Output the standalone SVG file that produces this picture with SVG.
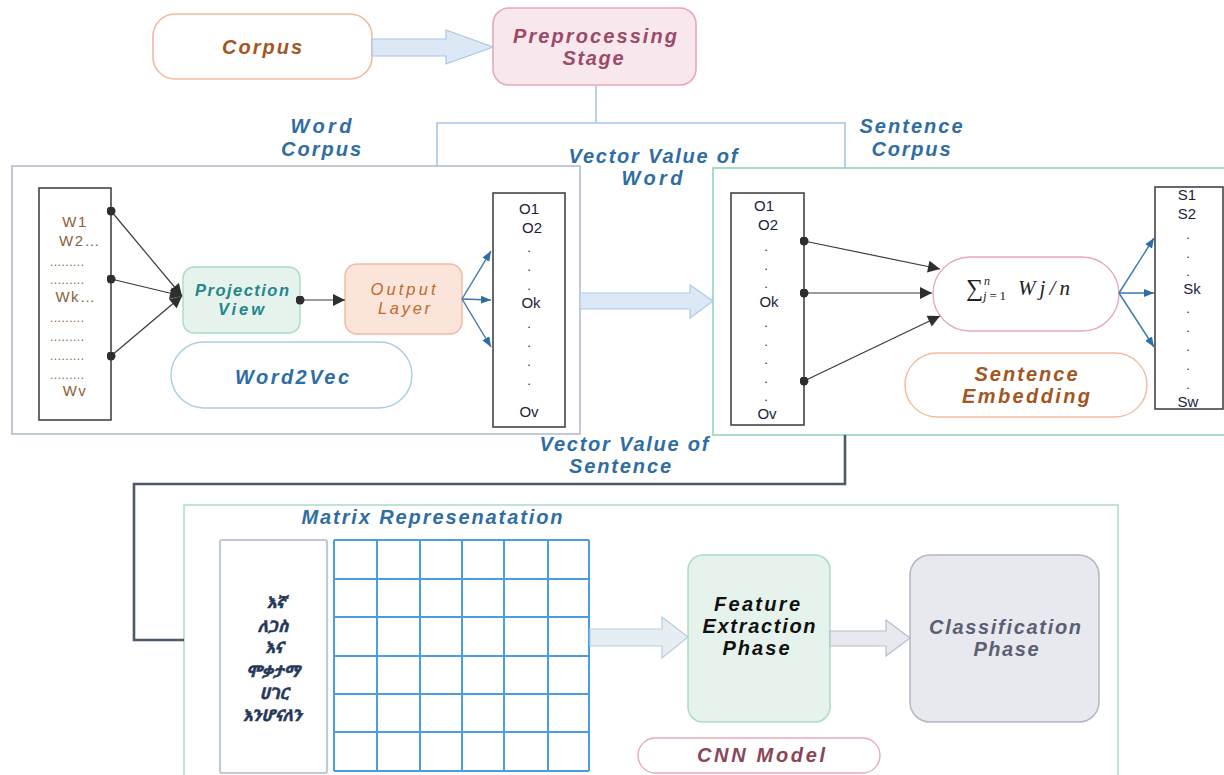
<svg xmlns="http://www.w3.org/2000/svg" width="1224" height="775" viewBox="0 0 1224 775">
  <style>
    .lbl { font-family: "Liberation Sans", Arial, sans-serif; font-weight: bold; font-style: italic; font-size: 20px; text-anchor: middle; }
    .blue { fill: #2f6da3; }
    .brown { fill: #a3561f; }
    .mauve { fill: #9a4b66; }
    .item { font-family: "Liberation Sans", Arial, sans-serif; font-size: 15px; text-anchor: middle; fill: #1c1c3c; }
    .witem { font-family: "Liberation Sans", Arial, sans-serif; font-size: 15px; text-anchor: middle; fill: #8a6236; letter-spacing: 1.5px; }
    .dot { font-family: "Liberation Sans", Arial, sans-serif; font-size: 13px; text-anchor: middle; fill: #1c1c3c; }
    .wdots { font-family: "Liberation Sans", Arial, sans-serif; font-size: 12px; fill: #8a6236; letter-spacing: 0.5px; }
    .am { font-family: "Noto Sans Ethiopic", "Abyssinica SIL", "DejaVu Sans", sans-serif; font-weight: bold; font-style: italic; font-size: 16px; text-anchor: middle; fill: #26385a; stroke: #26385a; stroke-width: 0.5; }
    .vlist { fill: #ffffff; stroke: #444444; stroke-width: 1.6; }
    .blk { stroke-width: 1.2; }
    .thin { fill: none; stroke: #3a3a3a; stroke-width: 1.2; }
    .bthin { fill: none; stroke: #3a78b0; stroke-width: 1.4; }
    .grid line { stroke: #4a9ee0; stroke-width: 2; }
    .small { font-size: 16.5px; }
  </style>
  <defs>
    <marker id="arrDarkL" viewBox="0 0 10 10" refX="10" refY="5" markerWidth="13" markerHeight="12" orient="auto" markerUnits="userSpaceOnUse">
      <path d="M0,0 L10,5 L0,10 z" fill="#2e2e2e"/>
    </marker>
    <marker id="arrBlue" viewBox="0 0 10 10" refX="10" refY="5" markerWidth="10" markerHeight="10" orient="auto" markerUnits="userSpaceOnUse">
      <path d="M0,1 L10,5 L0,9 z" fill="#2f6da3"/>
    </marker>
    <marker id="dotDark" viewBox="0 0 10 10" refX="5" refY="5" markerWidth="9" markerHeight="9" markerUnits="userSpaceOnUse">
      <circle cx="5" cy="5" r="5" fill="#2e2e2e"/>
    </marker>
  </defs>

  <rect width="1224" height="775" fill="#ffffff"/>

  <!-- outer frames -->
  <g id="word-panel">
    <rect x="12" y="166" width="568" height="268" fill="#ffffff" stroke="#c2cad8" stroke-width="2"/>
  </g>
  <g id="sentence-panel">
    <rect x="713" y="168" width="520" height="267" fill="#ffffff" stroke="#a8dcc6" stroke-width="2"/>
  </g>
  <g id="cnn-panel">
    <rect x="184" y="505" width="934" height="290" fill="#ffffff" stroke="#a8dcc6" stroke-width="1.5"/>
  </g>

  <!-- top stage -->
  <g id="corpus">
    <rect x="153" y="14" width="219" height="65" rx="22" fill="#ffffff" stroke="#f2b9a0" stroke-width="1.6"/>
    <text class="lbl brown" x="262" y="54" textLength="80" lengthAdjust="spacing">Corpus</text>
  </g>
  <g id="preprocessing">
    <rect x="493" y="8" width="203" height="77" rx="16" fill="#f9e7ee" stroke="#e8a8bc" stroke-width="1.6"/>
    <text class="lbl mauve" x="595" y="43" textLength="164" lengthAdjust="spacing">Preprocessing</text>
    <text class="lbl mauve" x="593" y="65" textLength="61" lengthAdjust="spacing">Stage</text>
  </g>

  <!-- connector labels -->
  <g id="labels">
    <text class="lbl blue" x="321" y="133" textLength="61" lengthAdjust="spacing">Word</text>
    <text class="lbl blue" x="321" y="156" textLength="80" lengthAdjust="spacing">Corpus</text>
    <text class="lbl blue" x="911" y="133" textLength="103" lengthAdjust="spacing">Sentence</text>
    <text class="lbl blue" x="911" y="156" textLength="79" lengthAdjust="spacing">Corpus</text>
    <text class="lbl blue" x="653" y="163" textLength="169" lengthAdjust="spacing">Vector Value of</text>
    <text class="lbl blue" x="652" y="185" textLength="61" lengthAdjust="spacing">Word</text>
    <text class="lbl blue" x="624" y="451" textLength="169" lengthAdjust="spacing">Vector Value of</text>
    <text class="lbl blue" x="620" y="473" textLength="102" lengthAdjust="spacing">Sentence</text>
    <text class="lbl blue" x="432" y="524" textLength="261" lengthAdjust="spacing">Matrix Represenatation</text>
  </g>

  <!-- word2vec panel -->
  <g id="word-list">
    <rect class="vlist" x="39" y="188" width="72" height="232"/>
    <text class="witem" x="75" y="227">W1</text>
    <text class="witem" x="80" y="246">W2…</text>
    <text class="wdots" x="50" y="266">.........</text>
    <text class="wdots" x="50" y="284">.........</text>
    <text class="witem" x="76" y="302">Wk…</text>
    <text class="wdots" x="50" y="322">.........</text>
    <text class="wdots" x="50" y="341">.........</text>
    <text class="wdots" x="50" y="360">.........</text>
    <text class="wdots" x="50" y="379">.........</text>
    <text class="witem" x="75" y="396">Wv</text>
  </g>
  <g id="projection-view">
    <rect x="183" y="267" width="117" height="66" rx="11" fill="#e5f3ec" stroke="#a9dcc6" stroke-width="1.4"/>
    <text class="lbl small" x="242" y="296" style="font-weight:600" fill="#23868a" textLength="94" lengthAdjust="spacing">Projection</text>
    <text class="lbl small" x="241" y="315" style="font-weight:600" fill="#23868a" textLength="46" lengthAdjust="spacing">View</text>
  </g>
  <g id="output-layer">
    <rect x="345" y="264" width="117" height="70" rx="12" fill="#fbe4da" stroke="#f2b9a0" stroke-width="1.4"/>
    <text class="lbl small" x="403" y="295" style="font-weight:normal" fill="#c06a2c" textLength="65" lengthAdjust="spacing">Output</text>
    <text class="lbl small" x="404" y="314" style="font-weight:normal" fill="#c06a2c" textLength="52" lengthAdjust="spacing">Layer</text>
  </g>
  <g id="word2vec">
    <rect x="171" y="342" width="241" height="66" rx="33" fill="#ffffff" stroke="#a9cde2" stroke-width="1.4"/>
    <text class="lbl blue" x="292" y="384" textLength="114" lengthAdjust="spacing">Word2Vec</text>
  </g>
  <g id="word-vectors">
    <rect class="vlist" x="493" y="193" width="72" height="234"/>
    <text class="item" x="529" y="214">O1</text>
    <text class="item" x="532" y="233">O2</text>
    <text class="dot" x="529" y="252">.</text>
    <text class="dot" x="529" y="271">.</text>
    <text class="dot" x="529" y="290">.</text>
    <text class="item" x="531" y="308">Ok</text>
    <text class="dot" x="529" y="328">.</text>
    <text class="dot" x="529" y="347">.</text>
    <text class="dot" x="529" y="366">.</text>
    <text class="dot" x="529" y="385">.</text>
    <text class="item" x="529" y="417">Ov</text>
  </g>

  <!-- sentence embedding panel -->
  <g id="sentence-input">
    <rect class="vlist" x="731" y="193" width="73" height="232"/>
    <text class="item" x="764" y="211">O1</text>
    <text class="item" x="768" y="230">O2</text>
    <text class="dot" x="766" y="251">.</text>
    <text class="dot" x="766" y="270">.</text>
    <text class="dot" x="766" y="288">.</text>
    <text class="item" x="769" y="307">Ok</text>
    <text class="dot" x="766" y="327">.</text>
    <text class="dot" x="766" y="346">.</text>
    <text class="dot" x="766" y="364">.</text>
    <text class="dot" x="766" y="383">.</text>
    <text class="dot" x="766" y="401">.</text>
    <text class="item" x="767" y="419">Ov</text>
  </g>
  <g id="average">
    <rect x="933" y="257" width="186" height="74" rx="37" fill="#ffffff" stroke="#e9a9bc" stroke-width="1.4"/>
    <text x="966" y="296" font-family="Liberation Serif, serif" font-size="24" fill="#222222">∑</text>
    <text x="984" y="285" font-family="Liberation Serif, serif" font-style="italic" font-size="12" fill="#222222">n</text>
    <text x="983" y="300" font-family="Liberation Serif, serif" font-size="13" fill="#222222" textLength="23" lengthAdjust="spacing"><tspan font-style="italic">j</tspan>=1</text>
    <text x="1018" y="295" font-family="Liberation Serif, serif" font-style="italic" font-size="21" fill="#222222" textLength="52" lengthAdjust="spacing">Wj/n</text>
  </g>
  <g id="sentence-embedding">
    <rect x="905" y="353" width="242" height="64" rx="32" fill="#ffffff" stroke="#f2b9a0" stroke-width="1.4"/>
    <text class="lbl brown" x="1026" y="381" textLength="103" lengthAdjust="spacing">Sentence</text>
    <text class="lbl brown" x="1026" y="403" textLength="128" lengthAdjust="spacing">Embedding</text>
  </g>
  <g id="sentence-vectors">
    <rect class="vlist" x="1155" y="187" width="68" height="222"/>
    <text class="item" x="1187" y="200">S1</text>
    <text class="item" x="1187" y="219">S2</text>
    <text class="dot" x="1188" y="239">.</text>
    <text class="dot" x="1188" y="258">.</text>
    <text class="dot" x="1188" y="276">.</text>
    <text class="item" x="1192" y="294">Sk</text>
    <text class="dot" x="1188" y="313">.</text>
    <text class="dot" x="1188" y="332">.</text>
    <text class="dot" x="1188" y="351">.</text>
    <text class="dot" x="1188" y="370">.</text>
    <text class="dot" x="1188" y="389">.</text>
    <text class="item" x="1188" y="407">Sw</text>
  </g>

  <!-- cnn panel -->
  <g id="sentence-words">
    <rect x="220" y="540" width="107" height="233" rx="2" fill="#ffffff" stroke="#c2cad8" stroke-width="2.2"/>
    <text class="am" x="276" y="608">እኛ</text>
    <text class="am" x="273" y="632">ለጋስ</text>
    <text class="am" x="274" y="653">እና</text>
    <text class="am" x="273" y="677">ሞቃታማ</text>
    <text class="am" x="274" y="699">ሀገር</text>
    <text class="am" x="272" y="721">እንሆናለን</text>
  </g>
  <g id="matrix" class="grid">
    <line x1="334" y1="540" x2="334" y2="771"/>
    <line x1="377" y1="540" x2="377" y2="771"/>
    <line x1="420" y1="540" x2="420" y2="771"/>
    <line x1="462" y1="540" x2="462" y2="771"/>
    <line x1="504" y1="540" x2="504" y2="771"/>
    <line x1="548" y1="540" x2="548" y2="771"/>
    <line x1="589" y1="540" x2="589" y2="771"/>
    <line x1="334" y1="540" x2="589" y2="540"/>
    <line x1="334" y1="579" x2="589" y2="579"/>
    <line x1="334" y1="617" x2="589" y2="617"/>
    <line x1="334" y1="656" x2="589" y2="656"/>
    <line x1="334" y1="694" x2="589" y2="694"/>
    <line x1="334" y1="732" x2="589" y2="732"/>
    <line x1="334" y1="771" x2="589" y2="771"/>
  </g>
  <g id="feature-extraction">
    <rect x="688" y="555" width="142" height="167" rx="15" fill="#e5f3ec" stroke="#a9dcc6" stroke-width="1.5"/>
    <text class="lbl" x="757" y="611" fill="#111111" textLength="86" lengthAdjust="spacing">Feature</text>
    <text class="lbl" x="759" y="633" fill="#111111" textLength="113" lengthAdjust="spacing">Extraction</text>
    <text class="lbl" x="756" y="655" fill="#111111" textLength="67" lengthAdjust="spacing">Phase</text>
  </g>
  <g id="classification">
    <rect x="910" y="555" width="189" height="167" rx="20" fill="#e8e9ef" stroke="#b0b6c6" stroke-width="1.5"/>
    <text class="lbl" x="1005" y="634" fill="#5a6072" textLength="152" lengthAdjust="spacing">Classification</text>
    <text class="lbl" x="1006" y="656" fill="#5a6072" textLength="65" lengthAdjust="spacing">Phase</text>
  </g>
  <g id="cnn-model">
    <rect x="638" y="738" width="242" height="35" rx="17.5" fill="#ffffff" stroke="#e9a9bc" stroke-width="1.4"/>
    <text class="lbl" x="761" y="762" fill="#8a4657" textLength="128" lengthAdjust="spacing">CNN Model</text>
  </g>

  <!-- connectors -->
  <g id="connectors">
    <!-- corpus tree from preprocessing -->
    <polyline points="596,85 596,123" fill="none" stroke="#a6c6e8" stroke-width="1.6"/>
    <polyline points="437,166 437,123 845,123 845,168" fill="none" stroke="#a6c6e8" stroke-width="1.6"/>
    <!-- sentence vectors down to matrix -->
    <polyline points="845,435 845,484 134,484 134,640 184,640" fill="none" stroke="#4e5a6a" stroke-width="2.6"/>

    <!-- block arrows -->
    <polygon class="blk" points="372,39 446,39 446,30 493,47 446,64 446,56 372,56" fill="#dde8f6" stroke="#a9c3e4"/>
    <polygon class="blk" points="580,293 690,293 690,285 713,301 690,318 690,309 580,309" fill="#dde8f6" stroke="#b2c9e6"/>
    <polygon class="blk" points="590,629 662,629 662,617 688,637 662,658 662,646 590,646" fill="#e6eef4" stroke="#b6cfe0"/>
    <polygon class="blk" points="830,631 886,631 886,620 910,638 886,656 886,646 830,646" fill="#e8e8ef" stroke="#b8bccf"/>

    <!-- word vectors into projection -->
    <line class="thin" x1="111" y1="211" x2="182" y2="296" marker-start="url(#dotDark)" marker-end="url(#arrDarkL)"/>
    <line class="thin" x1="111" y1="279" x2="182" y2="296" marker-start="url(#dotDark)" marker-end="url(#arrDarkL)"/>
    <line class="thin" x1="111" y1="356" x2="182" y2="296" marker-start="url(#dotDark)" marker-end="url(#arrDarkL)"/>
    <!-- projection to output -->
    <line class="thin" x1="300" y1="300" x2="345" y2="300" stroke-width="1.6" marker-start="url(#dotDark)" marker-end="url(#arrDarkL)"/>
    <!-- output fan-out -->
    <line class="bthin" x1="462" y1="299" x2="491" y2="251" marker-end="url(#arrBlue)"/>
    <line class="bthin" x1="462" y1="299" x2="491" y2="300" marker-end="url(#arrBlue)"/>
    <line class="bthin" x1="462" y1="299" x2="491" y2="347" marker-end="url(#arrBlue)"/>
    <!-- word vectors into averaging -->
    <line class="thin" x1="804" y1="241" x2="940" y2="269" marker-start="url(#dotDark)" marker-end="url(#arrDarkL)"/>
    <line class="thin" x1="804" y1="293" x2="932" y2="293" marker-start="url(#dotDark)" marker-end="url(#arrDarkL)"/>
    <line class="thin" x1="804" y1="381" x2="940" y2="316" marker-start="url(#dotDark)" marker-end="url(#arrDarkL)"/>
    <!-- averaging fan-out -->
    <line class="bthin" x1="1119" y1="293" x2="1154" y2="238" marker-end="url(#arrBlue)"/>
    <line class="bthin" x1="1119" y1="293" x2="1154" y2="293" marker-end="url(#arrBlue)"/>
    <line class="bthin" x1="1119" y1="293" x2="1154" y2="347" marker-end="url(#arrBlue)"/>
  </g>
</svg>
